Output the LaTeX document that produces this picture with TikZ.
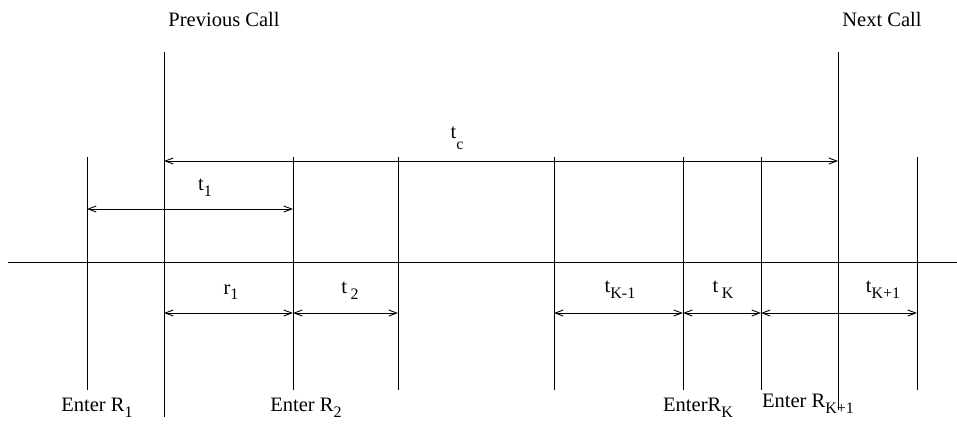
\documentclass[tikz,border=0pt]{standalone}
\usepackage{fontspec}
\setmainfont{Liberation Serif}
\usetikzlibrary{arrows.meta, positioning}
\newcommand{\lowsub}[1]{\raisebox{-0.6ex}{\fontsize{16}{17}\selectfont #1}}

\begin{document}
\begin{tikzpicture}[
		x=1pt, y=-1pt,
		tick/.style={line width=0.9pt},
		dim/.style={{Straight Barb[length=8pt,width=6pt]}-{Straight Barb[length=8pt,width=6pt]}, line width=0.9pt},
		lbl/.style={font=\fontsize{20.5}{22}\selectfont, inner sep=1pt}
	]
		\useasboundingbox (0,0) rectangle (957,423);
		% time axis
		\draw[tick] (8,262) coordinate (axL) -- (957,262) coordinate (axR);
		% calls
		\draw[tick] (164,52) coordinate (prevtop) -- (164,417) coordinate (prevbot);
		\draw[tick] (838,52) coordinate (nexttop) -- (838,410) coordinate (nextbot);
		\coordinate (prevc) at (164,161);
		\coordinate (nextc) at (838,161);
		\coordinate (prevlow) at (164,313);
		% room entries
		\foreach \n/\x in {a/87, b/293, c/398, d/554, e/683, f/761, g/917} {
			\draw[tick] (\x,157) coordinate (\n top) -- (\x,390) coordinate (\n bot);
			\coordinate (\n up) at (\x,209);
			\coordinate (\n low) at (\x,313);
		}
		\draw[dim] (prevc) -- (nextc);
		\draw[dim] (aup) -- (bup);
		\draw[dim] (prevlow) -- (blow);
		\draw[dim] (blow) -- (clow);
		\draw[dim] (dlow) -- (elow);
		\draw[dim] (elow) -- (flow);
		\draw[dim] (flow) -- (glow);
		% labels
		\node[lbl] (prevcall) at (224,19) {Previous Call};
		\node[lbl] (nextcall) at (882,19) {Next Call};
		\node[lbl] (tc) at (457,138) {t\raisebox{-1.2ex}{\fontsize{16}{17}\selectfont c}};
		\node[lbl] (t1) at (205,188) {t\lowsub{1}};
		\node[lbl] (r1) at (231,292) {r\lowsub{1}};
		\node[lbl] (t2) at (350,291) {t\,\lowsub{2}};
		\node[lbl] (tKm) at (620,290) {t\lowsub{K-1}};
		\node[lbl] (tK) at (723,290) {t\,\lowsub{K}};
		\node[lbl] (tKp) at (883,290) {t\lowsub{K+1}};
		\node[lbl] (enter1) at (97,408) {Enter R\lowsub{1}};
		\node[lbl] (enter2) at (306,408) {Enter R\lowsub{2}};
		\node[lbl] (enterK) at (698,408) {EnterR\lowsub{K}};
		\node[lbl] (enterKp) at (808,404) {Enter R\lowsub{K+1}};
	\end{tikzpicture}
\end{document}
